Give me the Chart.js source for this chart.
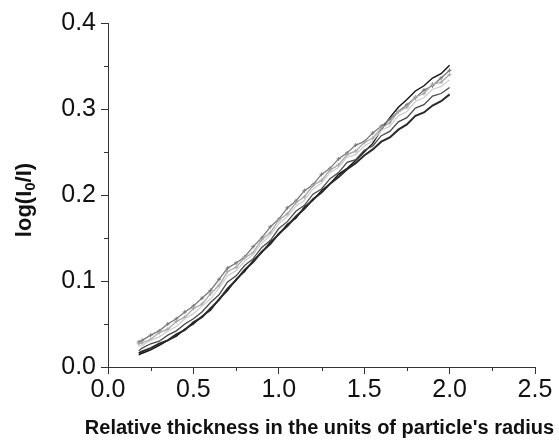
<!DOCTYPE html>
<html><head><meta charset="utf-8">
<script src="https://cdn.jsdelivr.net/npm/chart.js@4/dist/chart.umd.min.js"></script>
<style>html,body{margin:0;padding:0;background:#fff}#wrap{width:559px;height:441px}</style>
</head><body><div id="wrap"><canvas id="c" width="559" height="441"></canvas></div>
<script>
const xValues = [0.18,0.2,0.25,0.3,0.35,0.4,0.45,0.5,0.55,0.6,0.65,0.7,0.75,0.8,0.85,0.9,0.95,1.0,1.05,1.1,1.15,1.2,1.25,1.3,1.35,1.4,1.45,1.5,1.55,1.6,1.65,1.7,1.75,1.8,1.85,1.9,1.95,2.0];
const seriesA = [.014,.016,.020,.025,.031,.036,.044,.050,.059,.066,.079,.089,.102,.111,.124,.133,.145,.154,.166,.173,.186,.194,.205,.213,.224,.231,.240,.250,.260,.276,.290,.302,.311,.321,.327,.336,.341,.351];
const seriesB = [.016,.018,.022,.027,.031,.038,.043,.052,.058,.068,.078,.091,.101,.113,.122,.134,.143,.155,.164,.175,.184,.195,.203,.213,.221,.230,.237,.246,.253,.262,.267,.276,.282,.292,.296,.304,.309,.317];
const seriesC = [.029,.031,.037,.042,.050,.056,.064,.071,.080,.089,.102,.115,.121,.128,.140,.150,.163,.172,.185,.193,.205,.212,.224,.231,.242,.249,.258,.262,.272,.280,.288,.297,.305,.313,.322,.327,.336,.345];
const seriesD = [.027,.028,.032,.040,.044,.053,.058,.068,.073,.085,.095,.111,.116,.127,.133,.148,.156,.171,.178,.191,.198,.211,.217,.229,.235,.247,.251,.261,.266,.278,.284,.297,.302,.314,.318,.329,.331,.340];
const seriesE = [.024,.025,.031,.035,.042,.047,.056,.062,.071,.079,.092,.106,.112,.123,.131,.144,.153,.167,.175,.187,.194,.207,.214,.226,.232,.244,.247,.257,.263,.275,.280,.292,.297,.309,.313,.323,.326,.334];
const seriesF = [.019,.022,.027,.030,.037,.042,.050,.056,.064,.075,.084,.099,.106,.118,.126,.139,.147,.161,.169,.181,.188,.201,.207,.219,.226,.238,.241,.252,.257,.269,.274,.285,.290,.301,.305,.315,.318,.325];
const xMajorTicks = [0.0,0.5,1.0,1.5,2.0,2.5];
const yMajorTicks = [0.0,0.1,0.2,0.3,0.4];
const xMinorTicks = [0.25,0.75,1.25,1.75,2.25];
const yMinorTicks = [0.05,0.15,0.25,0.35];
const xTitle = "Relative thickness in the units of particle's radius";
const yTitleParts = ['log(I', '0', '/I)'];

const toPts = s => xValues.map((x,i)=>({x:x,y:s[i]}));
const mk = (s,color,w,pt,r) => ({data:toPts(s),borderColor:color,backgroundColor:color,borderWidth:w,pointStyle:pt||'circle',pointRadius:r||0,pointBorderWidth:1,showLine:true,fill:false,tension:0});

const extras = {
  id:'extras',
  afterDraw(chart){
    const ctx=chart.ctx, xs=chart.scales.x, ys=chart.scales.y;
    ctx.save(); ctx.strokeStyle='#333'; ctx.lineWidth=1; ctx.beginPath();
    xMinorTicks.forEach(v=>{const p=Math.round(xs.getPixelForValue(v))+0.5; ctx.moveTo(p,ys.bottom); ctx.lineTo(p,ys.bottom+4);});
    yMinorTicks.forEach(v=>{const p=Math.round(ys.getPixelForValue(v))+0.5; ctx.moveTo(xs.left-4,p); ctx.lineTo(xs.left,p);});
    ctx.stroke();
    // x title
    ctx.fillStyle='#111';
    ctx.font='bold 20px "Liberation Sans", Arial, sans-serif';
    ctx.textAlign='center'; ctx.textBaseline='middle';
    ctx.fillText(xTitle, (xs.left+xs.right)/2 - 2, 428);
    // y title with subscript
    const big='bold 22px "Liberation Sans", Arial, sans-serif', small='bold 15px "Liberation Sans", Arial, sans-serif';
    ctx.font=big; const w0=ctx.measureText(yTitleParts[0]).width, w2=ctx.measureText(yTitleParts[2]).width;
    ctx.font=small; const w1=ctx.measureText(yTitleParts[1]).width;
    const total=w0+w1+w2;
    ctx.translate(23, (ys.top+ys.bottom)/2 + 5); ctx.rotate(-Math.PI/2);
    ctx.textAlign='left'; ctx.textBaseline='alphabetic';
    let x=-total/2; const base=8;
    ctx.font=big; ctx.fillText(yTitleParts[0], x, base); x+=w0;
    ctx.font=small; ctx.fillText(yTitleParts[1], x, base+4); x+=w1;
    ctx.font=big; ctx.fillText(yTitleParts[2], x, base);
    ctx.restore();
  }
};

new Chart(document.getElementById('c'),{
  type:'scatter',
  data:{datasets:[
    mk(seriesE,'#cfcfcf',1.3),
    mk(seriesD,'#a8a8a8',1.3,'cross',2),
    mk(seriesC,'#7a7a7a',1.3,'cross',2),
    mk(seriesF,'#4a4a4a',1.3),
    mk(seriesB,'#2a2a2a',2),
    mk(seriesA,'#111111',1.4)
  ]},
  options:{
    responsive:false,animation:false,
    layout:{padding:{top:23,right:24,bottom:0,left:0}},
    plugins:{legend:{display:false},tooltip:{enabled:false}},
    scales:{
      x:{type:'linear',min:0,max:2.5,
        afterBuildTicks:s=>{s.ticks=xMajorTicks.map(v=>({value:v}));},
        afterFit:s=>{s.height=74;},
        border:{display:true,color:'#333',width:1},
        grid:{display:true,drawOnChartArea:false,drawTicks:true,tickLength:7,tickColor:'#333'},
        ticks:{color:'#111',font:{family:'Liberation Sans, Arial',size:25},padding:1,maxRotation:0,callback:v=>v.toFixed(1)},
        title:{display:false}
      },
      y:{type:'linear',min:0,max:0.4,
        afterBuildTicks:s=>{s.ticks=yMajorTicks.map(v=>({value:v}));},
        afterFit:s=>{s.width=108;},
        border:{display:true,color:'#333',width:1},
        grid:{display:true,drawOnChartArea:false,drawTicks:true,tickLength:7,tickColor:'#333'},
        ticks:{color:'#111',font:{family:'Liberation Sans, Arial',size:25},padding:5,callback:v=>v.toFixed(1)},
        title:{display:false}
      }
    }
  },
  plugins:[extras]
});
</script></body></html>
